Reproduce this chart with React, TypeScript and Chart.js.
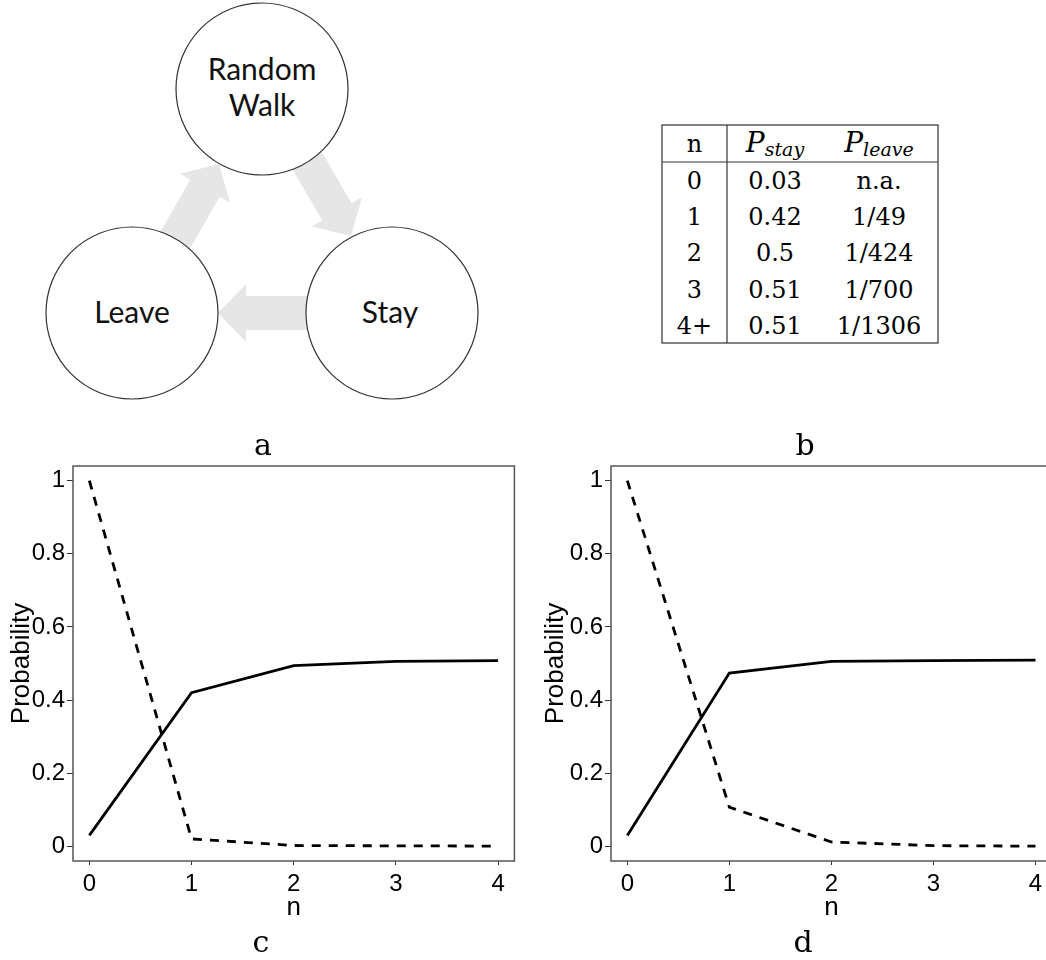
import React, { useEffect, useRef } from "react";
import { Chart, registerables } from "chart.js";

Chart.register(...registerables);

// ---- data ----
const nValues = [0, 1, 2, 3, 4];
const stayC = [0.03, 0.42, 0.494, 0.506, 0.508];
const leaveC = [1, 0.0204, 0.0024, 0.0014, 0.0008];
const stayD = [0.03, 0.474, 0.506, 0.508, 0.509];
const leaveD = [1, 0.107, 0.012, 0.002, 0.0005];
const xTicks = [0, 1, 2, 3, 4];
const xTickLabels = ["0", "1", "2", "3", "4"];
const yTicks = [0, 0.2, 0.4, 0.6, 0.8, 1];
const yTickLabels = ["0", "0.2", "0.4", "0.6", "0.8", "1"];

const tableN = ["0", "1", "2", "3", "4+"];
const tableStay = ["0.03", "0.42", "0.5", "0.51", "0.51"];
const tableLeave = ["n.a.", "1/49", "1/424", "1/700", "1/1306"];

const boxPlugin = {
  id: "box",
  afterDraw(chart: any) {
    const { ctx, chartArea } = chart;
    const { left, top, right, bottom } = chartArea;
    ctx.save();
    ctx.strokeStyle = "#555";
    ctx.lineWidth = 1.5;
    ctx.strokeRect(left, top, right - left, bottom - top);
    ctx.restore();
  },
};

type ChartProps = {
  stay: number[];
  leave: number[];
  left: number;
  top: number;
  width: number;
  height: number;
  padL: number;
  padR: number;
  yAxisW: number;
};

function ProbChart(p: ChartProps) {
  const ref = useRef<HTMLCanvasElement>(null);
  useEffect(() => {
    const chart = new Chart(ref.current as HTMLCanvasElement, {
      type: "line",
      data: {
        datasets: [
          {
            data: nValues.map((n, i) => ({ x: n, y: p.stay[i] })),
            borderColor: "#000",
            borderWidth: 2.8,
            pointRadius: 0,
            fill: false,
            tension: 0,
          },
          {
            data: nValues.map((n, i) => ({ x: n, y: p.leave[i] })),
            borderColor: "#000",
            borderWidth: 2.8,
            borderDash: [9, 8],
            pointRadius: 0,
            fill: false,
            tension: 0,
          },
        ],
      },
      options: {
        responsive: false,
        animation: false,
        layout: { padding: { left: p.padL, right: p.padR, top: 26, bottom: 0 } },
        plugins: { legend: { display: false }, tooltip: { enabled: false } },
        scales: {
          x: {
            type: "linear",
            min: -0.16,
            max: 4.16,
            afterBuildTicks: (s: any) => {
              s.ticks = xTicks.map((v) => ({ value: v }));
            },
            afterFit: (s: any) => {
              s.height = 62;
            },
            grid: { drawOnChartArea: false, drawTicks: true, tickLength: 4, color: "#333", lineWidth: 1 },
            border: { display: false },
            ticks: {
              font: { family: "Liberation Sans", size: 24 },
              color: "#000",
              padding: 5,
              maxRotation: 0,
              autoSkip: false,
              callback: (_v: any, i: number) => xTickLabels[i],
            },
            title: {
              display: true,
              text: "n",
              font: { family: "Liberation Sans", size: 26 },
              color: "#000",
              padding: 0,
            },
          },
          y: {
            min: -0.04,
            max: 1.04,
            afterBuildTicks: (s: any) => {
              s.ticks = yTicks.map((v) => ({ value: v }));
            },
            afterFit: (s: any) => {
              s.width = p.yAxisW;
            },
            grid: { drawOnChartArea: false, drawTicks: true, tickLength: 6, color: "#333", lineWidth: 1 },
            border: { display: false },
            ticks: {
              font: { family: "Liberation Sans", size: 24 },
              color: "#000",
              padding: 2,
              autoSkip: false,
              callback: (_v: any, i: number) => yTickLabels[i],
            },
            title: {
              display: true,
              text: "Probability",
              font: { family: "Liberation Sans", size: 26 },
              color: "#000",
              padding: 0,
            },
          },
        },
      } as any,
      plugins: [boxPlugin],
    });
    return () => chart.destroy();
  }, []);
  return (
    <canvas
      ref={ref}
      width={p.width}
      height={p.height}
      style={{ position: "absolute", left: p.left, top: p.top, width: p.width, height: p.height, display: "block" }}
    />
  );
}

function arrowPoints(sx: number, sy: number, tx: number, ty: number, sw: number, hw: number, hl: number) {
  const dx = tx - sx;
  const dy = ty - sy;
  const L = Math.hypot(dx, dy);
  const ux = dx / L;
  const uy = dy / L;
  const nx = -uy;
  const ny = ux;
  const bx = tx - ux * hl;
  const by = ty - uy * hl;
  const pts = [
    [sx + (nx * sw) / 2, sy + (ny * sw) / 2],
    [bx + (nx * sw) / 2, by + (ny * sw) / 2],
    [bx + (nx * hw) / 2, by + (ny * hw) / 2],
    [tx, ty],
    [bx - (nx * hw) / 2, by - (ny * hw) / 2],
    [bx - (nx * sw) / 2, by - (ny * sw) / 2],
    [sx - (nx * sw) / 2, sy - (ny * sw) / 2],
  ];
  return pts.map((q) => q.join(",")).join(" ");
}

function Diagram() {
  const r = 86;
  const circ = { fill: "#fff", stroke: "#333", strokeWidth: 1.2 };
  const txt = { fontFamily: "Lato", fontSize: 30, fill: "#111", textAnchor: "middle" as const };
  return (
    <svg width={500} height={420} style={{ position: "absolute", left: 0, top: 0 }}>
      <polygon points={arrowPoints(298, 145, 351, 236, 34, 58, 28)} fill="#e6e6e6" />
      <polygon points={arrowPoints(330, 313, 218, 313, 34, 58, 28)} fill="#e6e6e6" />
      <polygon points={arrowPoints(166, 256, 219, 164, 34, 58, 28)} fill="#e6e6e6" />
      <circle cx={262} cy={89} r={r} {...circ} />
      <circle cx={132} cy={313} r={r} {...circ} />
      <circle cx={392} cy={313} r={r} {...circ} />
      <text x={262} y={80} {...txt}>Random</text>
      <text x={262} y={116} {...txt}>Walk</text>
      <text x={132} y={323} {...txt}>Leave</text>
      <text x={390} y={323} {...txt}>Stay</text>
    </svg>
  );
}

function Table() {
  const tf = { fontFamily: "DejaVu Serif", fontSize: 24, fill: "#000", textAnchor: "middle" as const };
  const line = { stroke: "#333", strokeWidth: 1.2 };
  return (
    <svg width={1046} height={360} style={{ position: "absolute", left: 0, top: 0 }}>
      <rect x={662} y={125} width={276} height={218} fill="none" {...line} />
      <line x1={662} y1={162} x2={938} y2={162} {...line} />
      <line x1={727} y1={125} x2={727} y2={343} {...line} />
      <text x={694.5} y={152} {...tf}>n</text>
      <text x={775} y={152} {...tf}>
        <tspan fontStyle="italic" fontSize={28}>P</tspan>
        <tspan fontStyle="italic" fontSize={19} dy={4}>stay</tspan>
      </text>
      <text x={879} y={152} {...tf}>
        <tspan fontStyle="italic" fontSize={28}>P</tspan>
        <tspan fontStyle="italic" fontSize={19} dy={4}>leave</tspan>
      </text>
      {tableN.map((v, i) => (
        <text key={"n" + i} x={694.5} y={189 + i * 36.2} {...tf}>{v}</text>
      ))}
      {tableStay.map((v, i) => (
        <text key={"s" + i} x={775} y={189 + i * 36.2} {...tf}>{v}</text>
      ))}
      {tableLeave.map((v, i) => (
        <text key={"l" + i} x={879} y={189 + i * 36.2} {...tf}>{v}</text>
      ))}
    </svg>
  );
}

export default function App() {
  const lab = { fontFamily: "DejaVu Serif", fontSize: 30, fill: "#000", textAnchor: "middle" as const };
  return (
    <div
      style={{
        position: "absolute",
        left: 0,
        top: 0,
        width: 1046,
        height: 960,
        overflow: "hidden",
        background: "#fff",
      }}
    >
      <Diagram />
      <Table />
      <ProbChart stay={stayC} leave={leaveC} left={0} top={440} width={530} height={483} padL={6} padR={15.6} yAxisW={67} />
      <ProbChart stay={stayD} leave={leaveD} left={530} top={440} width={530} height={483} padL={10} padR={8.2} yAxisW={71} />
      <svg width={1046} height={960} style={{ position: "absolute", left: 0, top: 0, pointerEvents: "none" }}>
        <text x={263} y={455} {...lab}>a</text>
        <text x={805} y={455} {...lab}>b</text>
        <text x={261} y={952} {...lab}>c</text>
        <text x={803} y={952} {...lab}>d</text>
      </svg>
    </div>
  );
}
